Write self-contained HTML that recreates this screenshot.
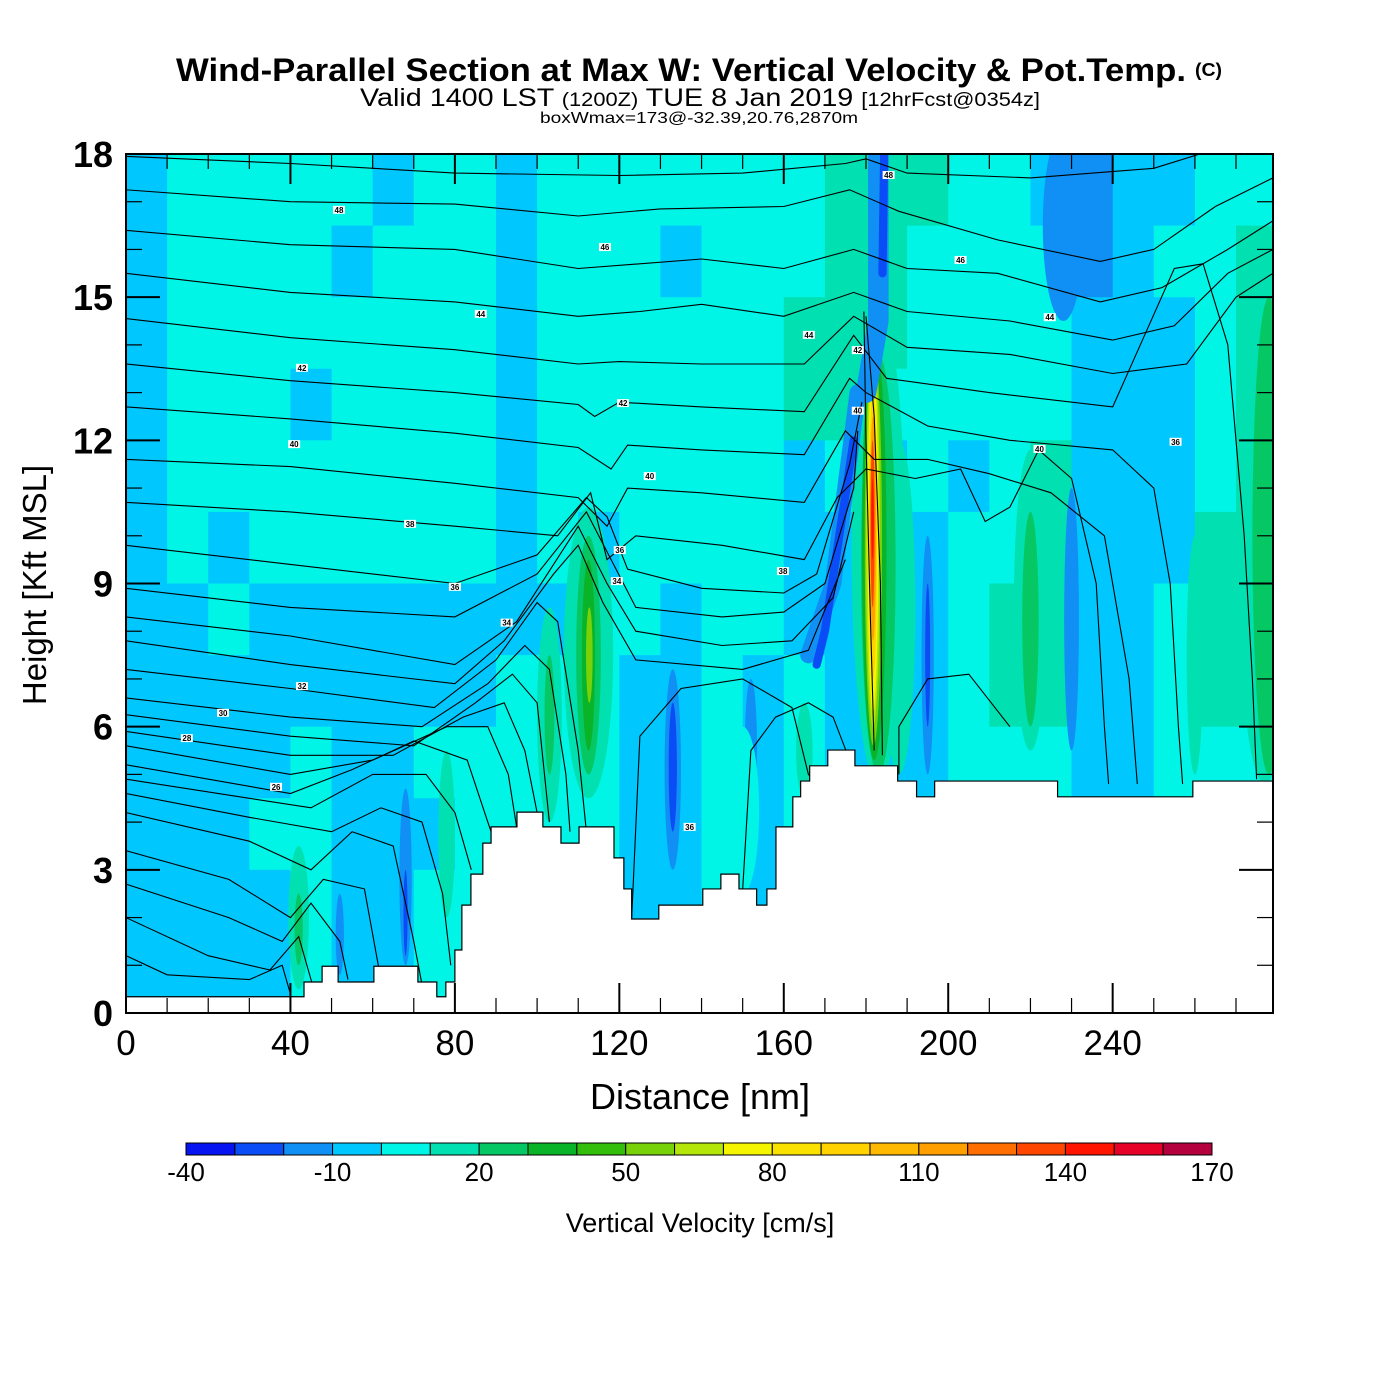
<!DOCTYPE html>
<html><head><meta charset="utf-8"><style>
html,body{margin:0;padding:0;background:#fff;}
svg{display:block;font-family:"Liberation Sans",sans-serif;}
</style></head><body>
<svg id="chart" width="1400" height="1400" viewBox="0 0 1400 1400" xmlns="http://www.w3.org/2000/svg">
<rect width="1400" height="1400" fill="#fff"/>
<g>
<text x="176" y="81" font-size="32" font-weight="bold" textLength="1010" lengthAdjust="spacingAndGlyphs">Wind-Parallel Section at Max W: Vertical Velocity &amp; Pot.Temp.</text>
<text x="1195" y="76" font-size="18" font-weight="bold" textLength="27" lengthAdjust="spacingAndGlyphs">(C)</text>
<text x="360" y="106" font-size="25" textLength="680" lengthAdjust="spacingAndGlyphs">Valid 1400 LST <tspan font-size="19">(1200Z)</tspan> TUE 8 Jan 2019 <tspan font-size="19">[12hrFcst@0354z]</tspan></text>
<text x="540" y="123" font-size="16" textLength="318" lengthAdjust="spacingAndGlyphs">boxWmax=173@-32.39,20.76,2870m</text>
</g>
<defs><clipPath id="plotclip"><rect x="126" y="154" width="1147" height="859"/></clipPath></defs>
<g id="plot" clip-path="url(#plotclip)"></g>
<g id="axes"></g>
<g id="cbar"></g>
</svg>
<script>
// ---------- data ----------
const xDomain = [0, 279];
const yDomain = [0, 18];
const xTicks = [0, 40, 80, 120, 160, 200, 240];
const yTicks = [0, 3, 6, 9, 12, 15, 18];
const cbarLevels = [-40,-30,-20,-10,0,10,20,30,40,50,60,70,80,90,100,110,120,130,140,150,160,170];
const cbarLabels = [-40,-10,20,50,80,110,140,170];
const cbarColors = ["#0514f0","#0a4cf5","#1090f5","#00c8ff","#00f5e6","#00e0b0","#05c864","#0ab428","#32be0a","#78d20a","#b4e60a","#f5f500","#fae100","#ffd200","#ffb900","#ffa000","#ff6e00","#ff4600","#ff1400","#e60028","#b4003c"];
// background grid: 10 nm columns, 1.5 kft rows, top row first (values in cm/s)
const gridColWidth = 10;
const gridRowHeight = 1.5;
const wGrid = [
[-5,5,5,5,5,5,-5,5,5,-5,5,5,5,5,5,5,5,15,15,15,5,5,-5,-15,-5,-5,5,5],
[-5,5,5,5,5,-5,5,5,5,-5,5,5,5,-5,5,5,5,15,15,5,5,5,5,-15,-5,5,5,15],
[-5,5,5,5,5,5,5,5,5,-5,5,5,5,5,5,5,15,15,15,5,5,5,5,-5,-5,-5,5,15],
[-5,5,5,5,-5,5,5,5,5,-5,5,5,5,5,5,5,15,15,5,5,5,5,5,-5,-5,-5,5,15],
[-5,5,5,5,5,5,5,5,5,-5,5,5,5,5,5,5,-5,5,-5,5,-5,5,15,-5,-5,-5,5,15],
[-5,5,-5,5,5,5,5,5,5,-5,5,-5,5,5,5,5,-5,-5,-5,-5,5,5,15,-5,-5,-5,15,15],
[-5,-5,5,-5,-5,-5,-5,-5,-5,-5,-5,5,5,-5,5,5,-5,-5,-5,-5,5,15,15,-5,-5,5,15,15],
[-5,-5,-5,-5,-5,-5,-5,-5,-5,5,5,5,-5,-5,5,-5,5,-5,5,-5,5,15,15,-5,-5,5,15,15],
[-5,-5,-5,-5,5,-5,-5,5,5,5,5,5,-5,-5,5,-5,5,-5,-5,-5,5,5,5,-5,-5,5,5,5],
[-5,-5,-5,5,5,-5,-5,-5,5,5,5,5,-5,-5,5,-5,5,-5,-5,-5,5,5,5,-5,-5,5,5,5],
[-5,-5,-5,-5,5,-5,-5,5,5,5,5,5,-5,-5,5,-5,5,-5,-5,-5,5,5,5,-5,-5,5,5,5],
[-5,-5,-5,-5,5,-5,-5,5,5,5,5,5,-5,-5,5,-5,5,-5,-5,-5,5,5,5,-5,-5,5,5,5]
];
// narrow cells (updrafts / downdrafts): value, center nm, half-width nm, bottom kft, top kft
const cellValue  = [15,25,35,55, 15,25, 15, 15,25, 15, -15,-30, -15,-30, -15, -15,-30, -15, -15, 15,25, 15, 15,15,25, -15, 15,25,35,55,65,75,95,115,135,145, 5];
const cellCenter = [112.5,112.5,112.5,112.7, 103,103, 78, 42,42, 165, 133,133, 68,68, 52, 195,195, 230, 228, 220,220, 260, 188,277,278, 152, 183,183,182,181.8,181.7,181.7,181.7,181.7,181.6,181.6, 150];
const cellHalfW  = [6,3,1.6,0.8, 3,1.2, 2, 2.5,1, 2, 2,1, 1.5,0.5, 1, 1.5,0.6, 1.8, 5, 4,2, 2, 4,7,4, 1.5, 6.5,4.2,3.0,2.1,1.7,1.3,1.0,0.75,0.5,0.3, 4];
const cellBottom = [4.5,5,5.5,6.5, 4,5, 2,0.5,1, 4.5, 3,3.8, 1,1.2, 0.8, 5,6, 5.5, 14.5, 5.5,6, 5, 5,4.8,5, 4, 4.8,5,5.3,5.6,6,6.3,7,7.8,8.5,9.5, 2.5];
const cellTop    = [10.6,10,9.5,8.5, 8.5,7.5, 5.5,3.5,2.5, 6.5, 7.2,6.5, 4.7,3, 2.5, 10,9, 11, 18.5, 11.8,10.5, 10, 12,16,15, 7, 14.8,13.8,14.2,14,13.9,13.6,13,12.5,12,11.2, 6];
// slanted streaks (downdraft band left of main plume): value, width nm, polyline points [nm,kft,...]
const streakValue = [-15,-30,-15,-30];
const streakWidth = [5,2,4,2];
const streakPts = [
 [183,18.5,183,14.5,180,13],
 [184.5,18.5,184,15.5],
 [178,13,172,9,166,7.5],
 [177,12,170,8,168,7.3]
];
// terrain outline (nm, kft) step profile
const terrainX = [0,43.3,43.3,47.7,47.7,51.6,51.6,60.3,60.3,71.0,71.0,75.6,75.6,77.8,77.8,80.0,80.0,81.7,81.7,83.9,83.9,86.8,86.8,88.8,88.8,95.1,95.1,101.4,101.4,105.8,105.8,110.2,110.2,118.7,118.7,121.1,121.1,123.0,123.0,129.6,129.6,140.3,140.3,144.7,144.7,149.1,149.1,153.4,153.4,155.9,155.9,158.1,158.1,162.2,162.2,164.1,164.1,166.3,166.3,170.7,170.7,177.3,177.3,187.7,187.7,192.3,192.3,196.7,196.7,226.6,226.6,259.5,259.5,279];
const terrainY = [0.34,0.34,0.65,0.65,0.98,0.98,0.65,0.65,0.98,0.98,0.65,0.65,0.34,0.34,0.65,0.65,1.32,1.32,2.26,2.26,2.91,2.91,3.56,3.56,3.9,3.9,4.21,4.21,3.9,3.9,3.56,3.56,3.9,3.9,3.25,3.25,2.6,2.6,1.97,1.97,2.26,2.26,2.6,2.6,2.91,2.91,2.6,2.6,2.26,2.26,2.6,2.6,3.9,3.9,4.53,4.53,4.86,4.86,5.18,5.18,5.51,5.51,5.18,5.18,4.86,4.86,4.53,4.53,4.86,4.86,4.53,4.53,4.86,4.86];
// potential temperature contours (nm,kft pairs)
const thetaLines = [
[0,17.95,40,17.8,80,17.6,120,17.55,150,17.6,175,17.8,180,17.9,190,17.6,220,17.5,250,17.7,265,18.1],
[0,17.25,40,17.0,80,16.95,110,16.7,130,16.85,160,16.9,176,17.25,188,16.8,212,16.2,237,15.75,250,16.0,265,16.9,279,17.5],
[0,16.4,40,16.1,80,16.0,110,15.6,125,15.7,140,15.8,160,15.6,177,16.0,190,15.6,212,15.5,237,14.9,252,15.2,268,16.0,279,16.6],
[0,15.5,40,15.1,80,14.9,110,14.6,125,14.7,140,14.85,160,14.6,177,15.1,190,14.7,215,14.5,240,14.1,255,14.4,268,15.5,279,16.0],
[0,14.55,40,14.15,80,13.9,110,13.6,120,13.65,140,13.6,165,13.6,177,14.6,190,13.95,215,13.8,240,13.4,258,13.6,270,15.0,279,15.5],
[0,13.6,40,13.25,80,13.0,110,12.75,114,12.5,120,12.8,140,12.7,165,12.6,177,14.2,185,13.3,210,13.0,240,12.7,255,15.6,262,15.7,268,14,272,10,274,7,275,4.9],
[0,12.7,40,12.45,80,12.15,110,11.85,118,11.4,122,11.9,140,11.8,165,11.7,176,13.3,180,13.0,195,12.3,215,12.0,240,11.8,250,11.0,254,9,256,6,257,4.8],
[0,11.6,40,11.45,80,11.1,110,10.8,117,10.2,122,11.0,140,10.9,165,10.7,175,12.2,182,11.6,195,11.6,210,11.3,225,10.9,238,10.0,244,7,246,4.8],
[0,10.7,40,10.5,80,10.2,105,10.0,113,10.9,117,9.5,124,10.0,145,9.8,165,9.5,173,10.8,180,11.4,192,11.2,203,11.4,209,10.3,215,10.6,222,11.8,230,11.2,236,9,238,6,239,4.8],
[0,9.8,40,9.4,80,9.0,100,9.6,112,10.8,117,10.4,122,9.3,140,8.9,160,8.8,168,9.2,176,11.5,179,12.8],
[0,8.9,40,8.5,80,8.3,100,9.2,112,10.5,118,9.5,124,8.5,145,8.3,160,8.4,170,9.0,177,11.0,178,12.2],
[0,8.3,40,7.9,80,7.3,95,8.2,110,10.2,117,9.0,124,8.0,145,7.7,162,7.8,172,8.7,177,10.5],
[0,7.8,40,7.3,80,6.9,92,7.8,104,9.2,110,9.8,116,8.6,124,7.4,150,7.2,166,7.6,175,9.5],
[0,7.2,40,6.8,75,6.4,90,7.4,100,8.6,105,8.2,110,5.5,112,3.8],
[0,6.6,40,6.2,72,6.0,88,6.9,97,7.7,103,7.2,107,5,108,3.8],
[0,6.25,40,5.8,70,5.6,85,6.5,94,7.1,100,6.5,103,4],
[0,5.9,40,5.4,65,5.4,82,6.2,92,6.5,97,5.5,100,4.2],
[0,5.6,40,5.0,60,5.3,78,6.0,88,6.0,93,5.0,95,3.9],
[0,5.2,40,4.6,55,5.1,70,5.7,83,5.3,88,4,90,3.5],
[0,4.9,30,4.5,45,4.3,60,5.0,73,5.0,80,4.2,84,3.0],
[0,4.6,30,4.1,50,3.8,62,4.3,72,4.0,77,2.5,79,1],
[0,4.2,30,3.6,45,3.0,55,3.8,65,3.5,70,1.5,72,0.6],
[0,3.4,25,2.8,40,2.0,48,2.8,58,2.6,62,0.7],
[0,2.7,25,2.0,38,1.5,45,2.3,52,1.5,54,0.7],
[0,2.0,20,1.2,35,0.9,42,1.6,46,0.4],
[0,1.2,10,0.8,30,0.7,38,1.0,40,0.4],
[123,2.0,125,5.8,135,6.8,150,7.0,162,6.4,166,5.0,168,4.8],
[150,2.6,152,5.5,158,6.2,166,6.5,172,6.2,176,5.3],
[182,5.5,181,8.5,180,12,179.5,14.7],
[184,5.4,183.5,9,182,12.5,180,14.6],
[188,5.0,188,6.0,195,7.0,205,7.1,215,6.0]
];
const thetaLabelText = ["48","46","44","42","40","38","36","34","32","30","28","26","48","46","44","44","42","40","42","40","38","36","34","40","36","36"];
const thetaLabelX = [51.8,116.5,86.3,42.8,40.9,69.1,80.0,92.6,42.8,23.6,14.8,36.5,185.5,203.0,224.7,166.1,178.0,178.0,120.9,127.4,159.8,120.1,119.4,222.2,255.3,137.1];
const thetaLabelY = [16.83,16.05,14.65,13.52,11.92,10.25,8.93,8.18,6.85,6.29,5.76,4.74,17.56,15.78,14.58,14.21,13.89,12.62,12.78,11.25,9.26,9.70,9.05,11.82,11.97,3.90];

// ---------- scales ----------
const PL=126, PT=154, PW=1147, PH=859;
const sx = d => PL + (d - xDomain[0]) / (xDomain[1]-xDomain[0]) * PW;
const sy = k => PT + PH - (k - yDomain[0]) / (yDomain[1]-yDomain[0]) * PH;
const colorOf = v => { let i = Math.floor((v - cbarLevels[0]) / 10); i = Math.max(0, Math.min(cbarColors.length-1, i)); return cbarColors[i]; };
const NS = "http://www.w3.org/2000/svg";
const mk = (tag, attrs, parent) => { const e = document.createElementNS(NS, tag); for (const k in attrs) e.setAttribute(k, attrs[k]); parent.appendChild(e); return e; };

const plot = document.getElementById('plot');
const axes = document.getElementById('axes');
const cbar = document.getElementById('cbar');

wGrid.forEach((row, r) => {
  const kTop = yDomain[1] - r*gridRowHeight, kBot = kTop - gridRowHeight;
  row.forEach((v, c) => {
    const x0 = c*gridColWidth, x1 = x0 + gridColWidth;
    const el = mk('rect', {x: sx(x0), y: sy(kTop), width: sx(x1)-sx(x0)+0.5, height: sy(kBot)-sy(kTop)+0.5, fill: colorOf(v)}, plot);
    
    
  });
});
cellValue.forEach((v, i) => {
  const cx = sx(cellCenter[i]), rx = sx(cellCenter[i]+cellHalfW[i]) - cx;
  const yt = sy(cellTop[i]), yb = sy(cellBottom[i]);
  const el = mk('ellipse', {cx: cx, cy: (yt+yb)/2, rx: rx, ry: (yb-yt)/2, fill: colorOf(v)}, plot);
  
  
});
streakValue.forEach((v, i) => {
  const p = streakPts[i]; const pts = [];
  for (let j=0;j<p.length;j+=2) pts.push(sx(p[j])+','+sy(p[j+1]));
  const el = mk('polyline', {points: pts.join(' '), fill:'none', stroke: colorOf(v), 'stroke-width': sx(streakWidth[i]) - sx(0), 'stroke-linecap':'round', 'stroke-linejoin':'round'}, plot);
  
  
});
thetaLines.forEach(p => {
  const pts = [];
  for (let j=0;j<p.length;j+=2) pts.push(sx(p[j]).toFixed(1)+','+sy(p[j+1]).toFixed(1));
  const el = mk('polyline', {points: pts.join(' '), fill:'none', stroke:'#000', 'stroke-width':1.1}, plot);
  
  
});
{
  const pts = [sx(0)+','+sy(-1)];
  terrainX.forEach((x,i)=>pts.push(sx(x)+','+sy(terrainY[i])));
  pts.push(sx(279)+','+sy(-1));
  const el = mk('polygon', {points: pts.join(' '), fill:'#fff', stroke:'#000', 'stroke-width':1.2}, plot);
  
  
}
thetaLabelText.forEach((t,i)=>{
  const x = sx(thetaLabelX[i]), y = sy(thetaLabelY[i]);
  const bg = mk('rect', {x: x-6, y: y-4, width: 12, height: 8, fill:'#fff'}, plot);
  
  
  const tx = mk('text', {x: x, y: y+3, 'font-size': 8, 'text-anchor':'middle', 'font-weight':'bold'}, plot);
  tx.textContent = t;
  
  
});
{
  const el = mk('rect', {x: PL, y: PT, width: PW, height: PH, fill:'none', stroke:'#000', 'stroke-width':2}, axes);
  
  
}
for (let d=0; d<=279; d+=10) {
  const major = d % 40 === 0; const L = major ? 30 : 15; const x = sx(d);
  const a = mk('line', {x1:x, y1:PT+PH, x2:x, y2:PT+PH-L, stroke:'#000', 'stroke-width': major?2:1.2}, axes);
  
  
  const b = mk('line', {x1:x, y1:PT, x2:x, y2:PT+L, stroke:'#000', 'stroke-width': major?2:1.2}, axes);
  
  
}
xTicks.forEach(d=>{
  const t = mk('text', {x: sx(d), y: 1055, 'font-size': 35, 'text-anchor':'middle'}, axes);
  t.textContent = d;
  
  
});
for (let k=0; k<=18; k++) {
  const major = k % 3 === 0; const L = major ? 34 : 16; const y = sy(k);
  const a = mk('line', {x1:PL, y1:y, x2:PL+L, y2:y, stroke:'#000', 'stroke-width': major?2:1.2}, axes);
  
  
  const b = mk('line', {x1:PL+PW, y1:y, x2:PL+PW-L, y2:y, stroke:'#000', 'stroke-width': major?2:1.2}, axes);
  
  
}
yTicks.forEach(k=>{
  const t = mk('text', {x: 113, y: sy(k)+13, 'font-size': 36, 'text-anchor':'end', 'font-weight':'bold'}, axes);
  t.textContent = k;
  
  
});
{
  const t = mk('text', {x: 700, y: 1109, 'font-size': 36, 'text-anchor':'middle'}, axes);
  t.textContent = 'Distance [nm]';
  
  
  const u = mk('text', {x: 0, y: 0, 'font-size': 33, 'text-anchor':'middle', transform:'translate(46,585) rotate(-90)'}, axes);
  u.textContent = 'Height [Kft MSL]';
  
  
}
const CB0 = 186, CB1 = 1212, CBY = 1143, CBH = 12;
const cbx = v => CB0 + (v - cbarLevels[0]) / (cbarLevels[cbarLevels.length-1]-cbarLevels[0]) * (CB1-CB0);
cbarColors.forEach((c,i)=>{
  const el = mk('rect', {x: cbx(cbarLevels[i]), y: CBY, width: cbx(cbarLevels[i+1])-cbx(cbarLevels[i]), height: CBH, fill:c, stroke:'#000', 'stroke-width':1}, cbar);
  
  
});
cbarLabels.forEach(v=>{
  const t = mk('text', {x: cbx(v), y: 1181, 'font-size': 26, 'text-anchor':'middle'}, cbar);
  t.textContent = v;
  
  
});
{
  const t = mk('text', {x: 700, y: 1232, 'font-size': 27, 'text-anchor':'middle'}, cbar);
  t.textContent = 'Vertical Velocity [cm/s]';
  
  
}
</script>
</body></html>
